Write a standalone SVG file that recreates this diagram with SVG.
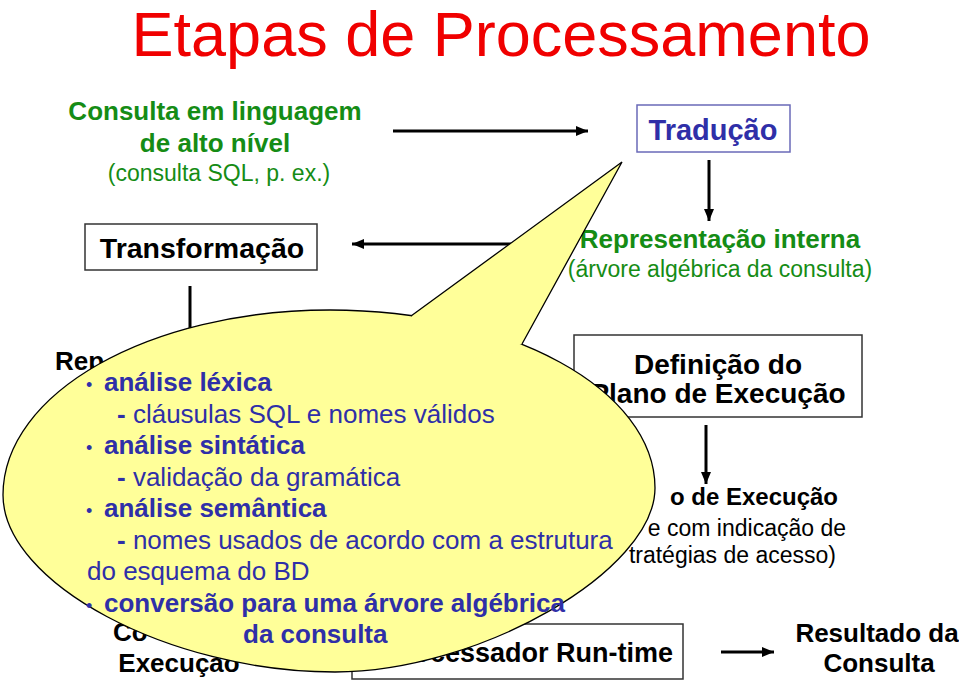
<svg xmlns="http://www.w3.org/2000/svg" width="959" height="682" viewBox="0 0 959 682">
<defs>
<style>
.t{font-family:"Liberation Sans",Arial,sans-serif}
.b{font-weight:bold}
.title{font-size:63px;fill:#f00000}
.g{fill:#158c15}
.k{fill:#000}
.bl{fill:#2f2fa8}
.box{fill:#fff;stroke:#333;stroke-width:1.5}
.conn{stroke:#000;stroke-width:3;fill:none}
.ct{font-size:26px}
</style>
<marker id="ah" markerUnits="userSpaceOnUse" markerWidth="12" markerHeight="10" refX="12" refY="5" orient="auto">
<path d="M0,0 L12,5 L0,10 z" fill="#000"/>
</marker>
</defs>
<rect width="959" height="682" fill="#fff"/>
<text class="t title" x="501" y="56" text-anchor="middle">Etapas de Processamento</text>

<g id="consulta">
<text class="t b g" x="215" y="120" font-size="26" text-anchor="middle">Consulta em linguagem</text>
<text class="t b g" x="215" y="152" font-size="26" text-anchor="middle">de alto nível</text>
<text class="t g" x="219" y="181" font-size="23" text-anchor="middle">(consulta SQL, p. ex.)</text>
</g>
<g id="traducao">
<rect x="637" y="105" width="153" height="47" fill="#fff" stroke="#6a6ab8" stroke-width="1.5"/>
<text class="t b bl" x="713" y="140" font-size="29" text-anchor="middle">Tradução</text>
</g>
<g id="repinterna">
<text class="t b g" x="720" y="248" font-size="26" text-anchor="middle">Representação interna</text>
<text class="t g" x="720" y="277" font-size="23" text-anchor="middle">(árvore algébrica da consulta)</text>
</g>
<g id="transformacao">
<rect class="box" x="85" y="224" width="232" height="46"/>
<text class="t b k" x="202" y="258" font-size="28.5" text-anchor="middle">Transformação</text>
</g>
<g id="rep">
<text class="t b k" x="55" y="370" font-size="26">Rep</text>
</g>
<g id="definicao">
<rect class="box" x="574" y="335" width="288" height="82"/>
<text class="t b k" x="718" y="374" font-size="28" text-anchor="middle">Definição do</text>
<text class="t b k" x="718" y="403" font-size="28" text-anchor="middle">Plano de Execução</text>
</g>
<g id="plano">
<text class="t b k" x="838" y="505" font-size="24" text-anchor="end">o de Execução</text>
<text class="t k" x="846" y="536" font-size="23" text-anchor="end">e com indicação de</text>
<text class="t k" x="836" y="563" font-size="23" text-anchor="end">tratégias de acesso)</text>
</g>
<g id="codigo">
<text class="t b k" x="113" y="641" font-size="26">Co</text>
<text class="t b k" x="179" y="672" font-size="26" text-anchor="middle">Execução</text>
</g>
<g id="processador">
<rect class="box" x="352" y="624" width="331" height="55"/>
<text class="t b k" x="673" y="662" font-size="27" text-anchor="end">Processador Run-time</text>
</g>
<g id="resultado">
<text class="t b k" x="877" y="642" font-size="26" text-anchor="middle">Resultado da</text>
<text class="t b k" x="879" y="672" font-size="26" text-anchor="middle">Consulta</text>
</g>

<g id="connectors">
<line class="conn" x1="393" y1="131" x2="588" y2="131" marker-end="url(#ah)"/>
<line class="conn" x1="709" y1="160" x2="709" y2="221" marker-end="url(#ah)"/>
<line class="conn" x1="565" y1="244" x2="352" y2="244" marker-end="url(#ah)"/>
<line class="conn" x1="190" y1="286" x2="190" y2="345"/>
<line class="conn" x1="706" y1="425" x2="706" y2="484" marker-end="url(#ah)"/>
<line class="conn" x1="721" y1="652" x2="774" y2="652" marker-end="url(#ah)"/>
</g>

<g id="callout">
<path d="M3,495 C3,393 149,310 330,310 C510,310 655,390 655,488 C655,571 479,672 335,672 C169,672 3,583 3,495 Z" fill="#ffff99" stroke="#000" stroke-width="1.3"/>
<polygon points="622,162 522,344 470,360 411,316" fill="#ffff99"/>
<polyline points="411,316 622,162 522,344" fill="none" stroke="#000" stroke-width="1.3" stroke-linejoin="miter"/>
<g class="t bl ct">
<text x="86" y="391" font-size="18">•</text>
<text class="b" x="104" y="391">análise léxica</text>
<text x="117" y="422.5"><tspan class="b">-</tspan> cláusulas SQL e nomes válidos</text>
<text x="86" y="454" font-size="18">•</text>
<text class="b" x="104" y="454">análise sintática</text>
<text x="117" y="485.5"><tspan class="b">-</tspan> validação da gramática</text>
<text x="86" y="517" font-size="18">•</text>
<text class="b" x="104" y="517">análise semântica</text>
<text x="117" y="548.5"><tspan class="b">-</tspan> nomes usados de acordo com a estrutura</text>
<text x="87" y="580">do esquema do BD</text>
<text x="86" y="611.5" font-size="18">•</text>
<text class="b" x="104" y="611.5">conversão para uma árvore algébrica</text>
<text class="b" x="243" y="643">da consulta</text>
</g>
</g>
</svg>
